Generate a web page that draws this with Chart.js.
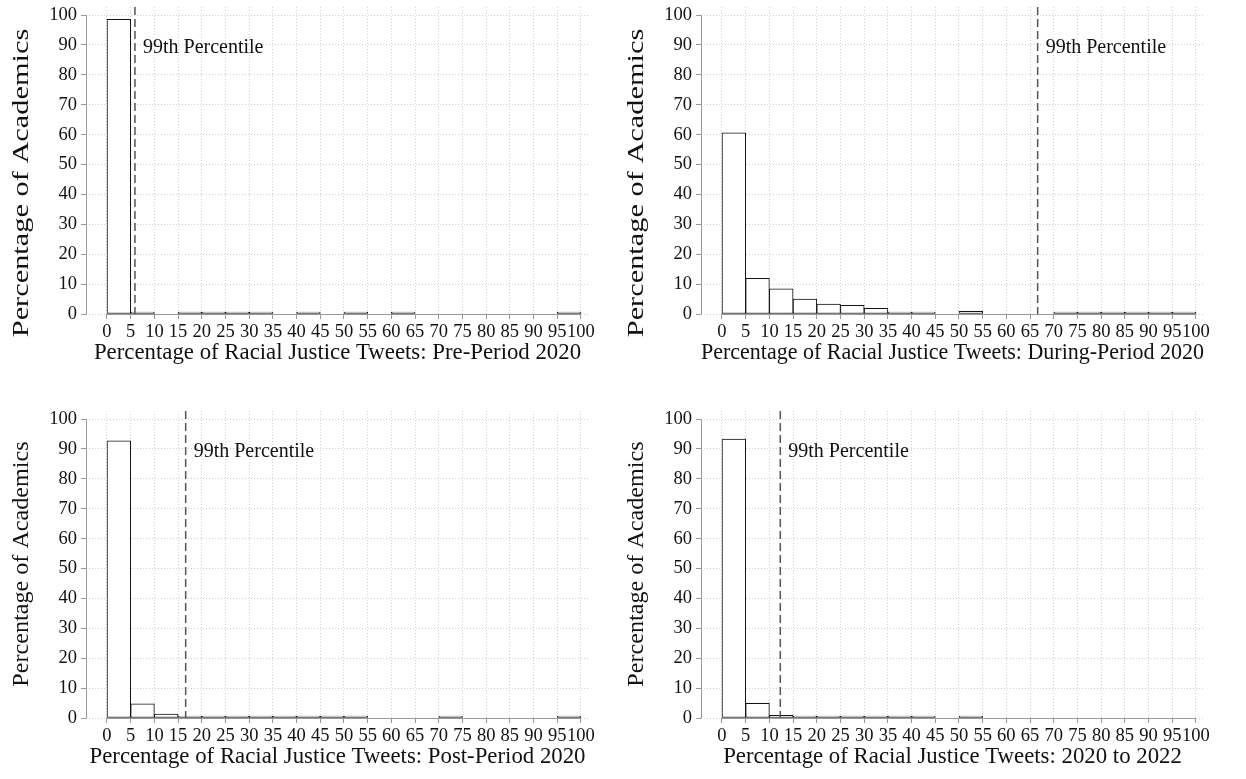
<!DOCTYPE html>
<html>
<head>
<meta charset="utf-8">
<script src="https://cdn.jsdelivr.net/npm/chart.js@4/dist/chart.umd.min.js"></script>
<style>
  html, body { margin: 0; padding: 0; background: #fff; }
  body { width: 1246px; height: 779px; position: relative; overflow: hidden; }
  .panel { position: absolute; width: 623px; height: 375px; }
</style>
</head>
<body>
<div class="panel" style="left:0;top:0"><canvas id="pre" width="623" height="375"></canvas></div>
<div class="panel" style="left:615px;top:0"><canvas id="during" width="623" height="375"></canvas></div>
<div class="panel" style="left:0;top:404px"><canvas id="post" width="623" height="375"></canvas></div>
<div class="panel" style="left:615px;top:404px"><canvas id="full" width="623" height="375"></canvas></div>
<script>
// histogram bins (percent of tweets), 5-point wide
const binStarts = [0, 5, 10, 15, 20, 25, 30, 35, 40, 45, 50, 55, 60, 65, 70, 75, 80, 85, 90, 95]
const binWidth = 5
const xTickValues = [0, 5, 10, 15, 20, 25, 30, 35, 40, 45, 50, 55, 60, 65, 70, 75, 80, 85, 90, 95, 100]
const yTickValues = [0, 10, 20, 30, 40, 50, 60, 70, 80, 90, 100]

// percentage of academics in each bin
const prePeriod = [98.6, 0.5, 0, 0.15, 0.15, 0.15, 0.15, 0, 0.15, 0, 0.15, 0, 0.15, 0, 0, 0, 0, 0, 0, 0.15]
const duringPeriod = [60.6, 11.9, 8.4, 5.0, 3.3, 2.9, 1.9, 0.5, 0.4, 0, 0.9, 0, 0, 0, 0.15, 0.15, 0.15, 0.15, 0.15, 0.5]
const postPeriod = [92.7, 4.7, 1.3, 0.35, 0.15, 0.15, 0.15, 0.15, 0.15, 0.15, 0.15, 0, 0, 0, 0.15, 0, 0, 0, 0, 0.15]
const fullPeriod = [93.3, 4.9, 0.9, 0.3, 0.15, 0.15, 0.15, 0.15, 0.15, 0, 0.15, 0, 0, 0, 0, 0, 0, 0, 0, 0]

// 99th percentile of each distribution
const percentile99 = [5.9, 66.6, 16.6, 12.3]
const percentileLabel = '99th Percentile'

const xTitles = [
	'Percentage of Racial Justice Tweets: Pre-Period 2020',
	'Percentage of Racial Justice Tweets: During-Period 2020',
	'Percentage of Racial Justice Tweets: Post-Period 2020',
	'Percentage of Racial Justice Tweets: 2020 to 2022'
]
const yTitle = 'Percentage of Academics'

const serif = '"Liberation Serif", "Times New Roman", serif'
const textColor = '#111111'
const axisColor = '#999999'
const gridColor = '#cfcfcf'

const overlay = {
	id: 'overlay',
	beforeDatasetsDraw(chart, args, opts) {
		const { ctx, chartArea, scales: { x, y } } = chart
		const y0 = Math.round(y.getPixelForValue(yTickValues[0])) + 0.5
		const y1 = y.getPixelForValue(yTickValues[yTickValues.length - 1])
		const xl = Math.round(chartArea.left) + 0.5
		ctx.save()
		ctx.strokeStyle = axisColor
		ctx.lineWidth = 1
		ctx.beginPath()
		ctx.moveTo(xl, y0)
		ctx.lineTo(xl, y1)
		ctx.moveTo(x.getPixelForValue(xTickValues[0]), y0)
		ctx.lineTo(x.getPixelForValue(xTickValues[xTickValues.length - 1]), y0)
		ctx.stroke()
		ctx.restore()
	},
	afterDatasetsDraw(chart, args, opts) {
		const { ctx, chartArea, scales: { x, y } } = chart
		const px = x.getPixelForValue(opts.p99)
		ctx.save()
		ctx.strokeStyle = '#555555'
		ctx.lineWidth = 1.5
		ctx.setLineDash([8, 4])
		ctx.beginPath()
		ctx.moveTo(px, chartArea.top)
		ctx.lineTo(px, y.getPixelForValue(0))
		ctx.stroke()
		ctx.setLineDash([])
		ctx.fillStyle = textColor
		ctx.font = '20px ' + serif
		ctx.textBaseline = 'middle'
		ctx.textAlign = 'left'
		ctx.fillText(percentileLabel, px + 8, y.getPixelForValue(90) + 3)
		ctx.restore()
	},
	afterDraw(chart, args, opts) {
		// y title, drawn by hand so it can be stretched like the original
		const { ctx } = chart
		ctx.save()
		ctx.translate(22, opts.titleCenter)
		ctx.rotate(-Math.PI / 2)
		ctx.scale(opts.titleStretch, 1)
		ctx.fillStyle = textColor
		ctx.font = '23px ' + serif
		ctx.textAlign = 'center'
		ctx.textBaseline = 'middle'
		ctx.fillText(yTitle, 0, 0)
		ctx.restore()
	}
}

function renderHistogram(id, values, p99, xTitle, titleCenter, titleStretch) {
	const data = binStarts.map((b, i) => ({ x: b + binWidth / 2, y: values[i] || null }))
	new Chart(document.getElementById(id), {
		type: 'bar',
		data: {
			datasets: [
				{
					data: data,
					backgroundColor: '#ffffff',
					borderColor: '#111111',
					borderWidth: 1,
					borderSkipped: false,
					minBarLength: 2,
					barPercentage: 1,
					categoryPercentage: 1
				}
			]
		},
		options: {
			responsive: false,
			animation: false,
			layout: { padding: { top: 7, right: 34, left: 0, bottom: 0 } },
			plugins: {
				legend: { display: false },
				tooltip: { enabled: false },
				overlay: { p99: p99, titleCenter: titleCenter, titleStretch: titleStretch }
			},
			scales: {
				x: {
					type: 'linear',
					offset: false,
					min: -4.43,
					max: 101.7,
					afterBuildTicks: s => { s.ticks = xTickValues.map(v => ({ value: v })) },
					afterFit: s => {
						s.height = 61
						s.paddingLeft = 0
						s.paddingRight = 0
					},
					border: { display: false, dash: [1, 2] },
					grid: {
						offset: false,
						color: gridColor,
						tickColor: axisColor,
						tickBorderDash: [],
						tickLength: 5
					},
					ticks: {
						autoSkip: false,
						maxRotation: 0,
						padding: 2,
						color: textColor,
						font: { family: serif, size: 18.5 }
					},
					title: {
						display: true,
						text: xTitle,
						color: textColor,
						font: { family: serif, size: 22.8 },
						padding: { top: 0, bottom: 8 }
					}
				},
				y: {
					min: 0,
					max: 102.7,
					afterBuildTicks: s => { s.ticks = yTickValues.map(v => ({ value: v })) },
					afterFit: s => {
						s.width = 86
						s.paddingTop = 0
						s.paddingBottom = 0
					},
					border: { display: false, dash: [1, 2] },
					grid: {
						color: gridColor,
						tickColor: axisColor,
						tickBorderDash: [],
						tickLength: 5
					},
					ticks: {
						padding: 4,
						color: textColor,
						font: { family: serif, size: 18.5 }
					}
				}
			}
		},
		plugins: [overlay]
	})
}

renderHistogram('pre', prePeriod, percentile99[0], xTitles[0], 183, 1.32)
renderHistogram('during', duringPeriod, percentile99[1], xTitles[1], 183, 1.32)
renderHistogram('post', postPeriod, percentile99[2], xTitles[2], 160, 1.05)
renderHistogram('full', fullPeriod, percentile99[3], xTitles[3], 160, 1.05)
</script>
</body>
</html>
